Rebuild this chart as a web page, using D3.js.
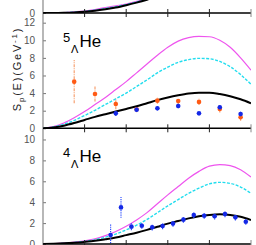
<!DOCTYPE html>
<html><head><meta charset="utf-8">
<script src="https://cdn.jsdelivr.net/npm/d3@7"></script>
<style>body{margin:0;background:#fff}svg{display:block}</style>
</head><body>
<script>
// x grid for curves (arbitrary energy units, ticks 0..5)
const xCurve = [0,0.25,0.5,0.75,1,1.25,1.5,1.75,2,2.25,2.5,2.75,3,3.25,3.5,3.75,4,4.25,4.5,4.75,5];
const xTop = [0,0.25,0.5,0.75,1,1.25,1.5,1.75,2,2.25,2.5,2.75,3];

// top panel (partially visible)
const topMagenta = [0,0.02,0.08,0.2,0.35,0.6,0.95,1.25,1.55,2.0,2.5,3.1,3.7];
const topCyan    = [0,0.01,0.05,0.14,0.28,0.5,0.78,1.1,1.45,1.9,2.4,2.95,3.5];
const topBlack   = [0,0,0.03,0.1,0.22,0.4,0.65,0.95,1.35,1.8,2.3,2.85,3.4];

// 5_Lambda He panel
const midMagenta = [0,0.2,0.6,1.2,1.9,2.7,3.5,4.4,5.3,6.3,7.3,8.3,9.2,9.9,10.3,10.45,10.4,10.0,9.2,8.0,6.6];
const midCyan    = [0,0.15,0.45,0.9,1.45,2.05,2.7,3.35,4.0,4.75,5.5,6.3,6.95,7.5,7.8,7.95,7.9,7.6,7.0,6.1,5.0];
const midBlack   = [0,0.1,0.3,0.6,0.95,1.3,1.6,1.9,2.2,2.5,2.85,3.2,3.5,3.75,3.95,4.05,4.05,3.9,3.65,3.3,2.85];
const midOrangeX = [0.75,1.25,1.75,2.25,2.75,3.25,3.75,4.25,4.75];
const midOrangeY = [5.3,3.9,2.76,2.16,3.14,3.1,3.0,2.2,1.25];
const midOrangeE = [2.45,0.85,0.6,0.35,0.35,0.35,0.35,0.4,0.4];
const midBlueX   = [1.75,2.25,2.75,3.25,3.75,4.25,4.75];
const midBlueY   = [1.7,2.1,2.27,2.53,1.7,2.39,1.62];
const midBlueE   = [0.3,0.25,0.25,0.25,0.2,0.25,0.25];

// 4_Lambda He panel
const botMagenta = [0,0.02,0.08,0.18,0.3,0.5,0.8,1.2,1.7,2.3,3.0,3.85,4.7,5.5,6.3,6.95,7.45,7.6,7.5,7.1,6.4];
const botCyan    = [0,0.02,0.06,0.14,0.25,0.4,0.65,0.95,1.35,1.8,2.35,3.0,3.65,4.25,4.85,5.35,5.75,5.9,5.8,5.45,4.85];
const botBlack   = [0,0.02,0.06,0.12,0.2,0.3,0.45,0.62,0.85,1.08,1.35,1.65,1.95,2.2,2.45,2.65,2.78,2.84,2.78,2.6,2.3];
const botBlueX   = [1.625,1.875,2.125,2.375,2.625,2.875,3.125,3.375,3.625,3.875,4.125,4.375,4.625,4.875];
const botBlueY   = [0.86,3.5,1.66,1.75,1.6,1.72,1.95,2.33,2.78,2.71,2.65,2.87,2.55,2.13];
const botBlueE   = [1.0,1.0,0.35,0.3,0.3,0.3,0.3,0.3,0.3,0.3,0.3,0.3,0.3,0.3];

const midTicks = [0,2,4,6,8,10,12];
const botTicks = [0,2,4,6,8,10];
const topTicks = [0];
const xTicks = [1,2,3,4,5];

const W = 256, H = 245;
const xL = 43, xR = 251;
const svg = d3.select("body").append("svg").attr("width", W).attr("height", H);
const x = d3.scaleLinear().domain([0,5]).range([xL,xR]);

const panels = [
  {y0:13, y1:-102.5, dom:[0,20], ticks:topTicks, curves:[topMagenta,topCyan,topBlack], xs:xTop, pts:[]},
  {y0:128.3, y1:13, dom:[0,13.1], ticks:midTicks, curves:[midMagenta,midCyan,midBlack], xs:xCurve,
   pts:[{xs:midOrangeX, ys:midOrangeY, es:midOrangeE, c:"#ff5a14", ec:"#f7a070", dash:"3,1,1,1"},
        {xs:midBlueX, ys:midBlueY, es:midBlueE, c:"#1428e6", ec:"#3050ff", dash:"1,1"}],
   label:{mass:"5"}},
  {y0:244, y1:128.3, dom:[0,11.07], ticks:botTicks, curves:[botMagenta,botCyan,botBlack], xs:xCurve,
   pts:[{xs:botBlueX, ys:botBlueY, es:botBlueE, c:"#1428e6", ec:"#3050ff", dash:"1.2,1"}],
   label:{mass:"4"}}
];

const curveStyle = [
  {stroke:"#ee55ee", w:1.2, dash:null},
  {stroke:"#22ddee", w:1.4, dash:"3,1.5"},
  {stroke:"#000", w:2, dash:null}
];

panels.forEach((p,i) => {
  const y = d3.scaleLinear().domain(p.dom).range([p.y0, p.y1]);
  const cid = "clip"+i;
  svg.append("clipPath").attr("id",cid).append("rect")
    .attr("x",xL).attr("y",Math.max(0,p.y1)).attr("width",xR-xL).attr("height",p.y0-Math.max(0,p.y1));
  const g = svg.append("g").attr("clip-path",`url(#${cid})`);
  p.curves.forEach((vals,k) => {
    const line = d3.line().x((d,j)=>x(p.xs[j])).y(d=>y(d)).curve(d3.curveMonotoneX);
    g.append("path").attr("d", line(vals)).attr("fill","none")
      .attr("stroke",curveStyle[k].stroke).attr("stroke-width",curveStyle[k].w)
      .attr("stroke-dasharray",curveStyle[k].dash);
  });
  p.pts.forEach(s => {
    s.xs.forEach((xv,j) => {
      g.append("line").attr("x1",x(xv)).attr("x2",x(xv))
        .attr("y1",y(s.ys[j]-s.es[j])).attr("y2",y(s.ys[j]+s.es[j]))
        .attr("stroke",s.ec).attr("stroke-width",1.2).attr("stroke-dasharray",s.dash);
    });
    s.xs.forEach((xv,j) => {
      g.append("circle").attr("cx",x(xv)).attr("cy",y(s.ys[j])).attr("r",2.3).attr("fill",s.c);
    });
  });
  // y axis
  const ya = d3.axisLeft(y).tickValues(p.ticks).tickSize(-3).tickPadding(8).tickFormat(d3.format("d"));
  const ag = svg.append("g").attr("transform",`translate(${xL},0)`).call(ya);
  ag.select(".domain").remove();
  ag.selectAll("line").attr("stroke","#777");
  ag.selectAll("text").attr("fill","#555").style("font-family","'Liberation Sans Narrow','Arial Narrow',sans-serif").style("font-size","10px");
  if (p.label) {
    const t = svg.append("g").style("font-family","'Liberation Sans Narrow','Arial Narrow',sans-serif").attr("fill","#000");
    const by = p.y1;
    t.append("text").attr("x",63).attr("y",by+29).style("font-size","13px").text(p.label.mass);
    t.append("text").attr("x",71).attr("y",by+40).style("font-size","11px").text("Λ");
    t.append("text").attr("x",79.5).attr("y",by+34).style("font-size","17px").text("He");
  }
});

// y axis line
svg.append("line").attr("x1",xL).attr("x2",xL).attr("y1",0).attr("y2",H).attr("stroke","#888").attr("stroke-width",1.2);

// x axes (shared lines)
[13,128.3,244].forEach(yy => {
  svg.append("line").attr("x1",xL).attr("x2",xR).attr("y1",yy).attr("y2",yy).attr("stroke","#000").attr("stroke-width",1.6);
  xTicks.forEach(t => {
    svg.append("line").attr("x1",x(t)).attr("x2",x(t)).attr("y1",yy-4).attr("y2",yy+4)
      .attr("stroke", t===5 ? "#888" : "#222").attr("stroke-width",1);
  });
});

// y label
const yl = svg.append("text").attr("transform","translate(21,69) rotate(-90)")
  .attr("text-anchor","middle").style("font-family","'Liberation Sans',Arial,sans-serif")
  .style("font-size","11px").style("letter-spacing","1.8px").attr("fill","#222");
yl.append("tspan").text("S");
yl.append("tspan").attr("dy",3).style("font-size","8px").text("p");
yl.append("tspan").attr("dy",-3).text("(E)(GeV");
yl.append("tspan").attr("dy",-4).style("font-size","8px").text("-1");
yl.append("tspan").attr("dy",4).text(")");
</script>
</body></html>
